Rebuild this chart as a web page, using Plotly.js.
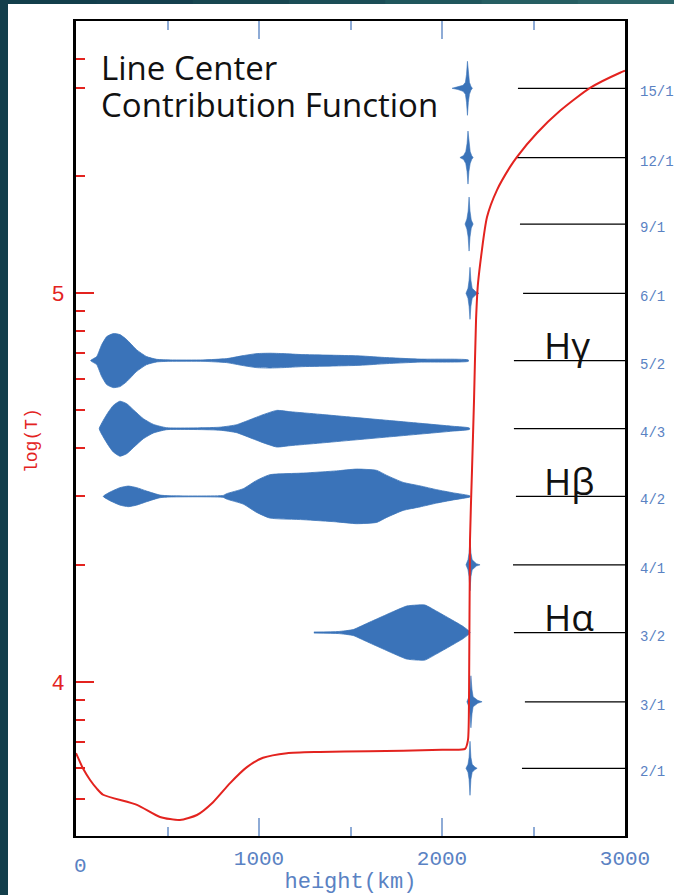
<!DOCTYPE html>
<html><head><meta charset="utf-8">
<script src="https://cdn.plot.ly/plotly-3.0.1.min.js"></script>
<style>html,body{margin:0;padding:0;background:#fff;} #chart{width:674px;height:895px;}</style>
</head><body><div id="chart"></div>
<script>
// ---------- data ----------
// temperature profile: height (km) vs log(T)
const tempHeight = [0, 40, 77, 115, 148, 333, 459, 568, 661, 749, 842, 934, 1022, 1153, 1333, 1600, 1787, 2000, 2126, 2142, 2148, 2153, 2164, 2175, 2186, 2197, 2246, 2301, 2372, 2410, 2519, 2645, 2809, 2973, 3000];
const tempLogT   = [3.817, 3.776, 3.748, 3.725, 3.710, 3.684, 3.653, 3.645, 3.658, 3.691, 3.740, 3.781, 3.805, 3.817, 3.820, 3.822, 3.823, 3.826, 3.828, 3.851, 3.979, 4.365, 4.545, 4.725, 4.931, 5.026, 5.195, 5.265, 5.324, 5.350, 5.411, 5.468, 5.527, 5.566, 5.571];

// transitions (right-hand labels) and the log(T) level of each row
const lineLabels      = ['15/1', '12/1', '9/1', '6/1', '5/2', '4/3', '4/2', '4/1', '3/2', '3/1', '2/1'];
const lineCenterLogT  = [5.526, 5.348, 5.177, 4.999, 4.826, 4.651, 4.477, 4.301, 4.127, 3.949, 3.778];
const markerStartKm   = [2415, 2410, 2426, 2443, 2393, 2393, 2404, 2388, 2393, 2453, 2437];

// named lines
const namedLabels = ['Hγ', 'Hβ', 'Hα'];
const namedRows   = ['5/2', '4/2', '3/2'];

// contribution functions: height (km) and amplitude (arbitrary units)
const cf15_1_h = [2055, 2087, 2115, 2128, 2134, 2139, 2144, 2150, 2158, 2166];
const cf15_1_a = [0, 1.2, 3, 6, 14, 27, 14, 6, 2, 0];
const cf12_1_h = [2098, 2118, 2130, 2137, 2142, 2147, 2154, 2162, 2170];
const cf12_1_a = [0, 2, 6, 14, 26.5, 14, 6, 2, 0];
const cf9_1_h  = [2126, 2136, 2143, 2148, 2153, 2160, 2170];
const cf9_1_a  = [0, 5, 13, 27, 13, 4, 0];
const cf6_1_h  = [2131, 2142, 2148, 2153, 2158, 2165, 2185, 2202];
const cf6_1_a  = [0, 5, 13, 26, 13, 5, 1.5, 0];
const cf5_2_h  = [80, 113, 140, 168, 204, 240, 277, 332, 386, 441, 514, 694, 823, 914, 987, 1060, 1131, 1240, 1424, 1552, 1698, 1880, 2144];
const cf5_2_a  = [0, 4, 15.7, 24, 27, 26, 21, 10.7, 4, 1.3, 0.7, 0.7, 2, 5, 7, 7.4, 7, 6, 5.3, 4.7, 3, 1.5, 0.7];
const cf4_3_h  = [127, 149, 177, 204, 240, 277, 313, 368, 423, 495, 787, 878, 951, 1022, 1097, 1169, 1333, 1514, 1698, 1880, 2060, 2150];
const cf4_3_a  = [0, 8.3, 16.7, 23.3, 27.5, 25, 19, 10, 4.3, 1, 1.5, 4, 9, 14, 18.3, 17, 14.4, 11.4, 8.4, 5.4, 2.4, 0.7];
const cf4_2_h  = [149, 186, 240, 286, 332, 386, 459, 514, 805, 823, 914, 987, 1060, 1242, 1424, 1534, 1643, 1698, 1788, 1880, 1971, 2062, 2153];
const cf4_2_a  = [0, 4.3, 8.7, 10.3, 8.7, 5.3, 1.3, 0.6, 1, 2.7, 7.7, 16, 21.7, 23.3, 25.5, 27.3, 26, 21, 14, 10.5, 6.7, 3.5, 0.5];
const cf4_1_h  = [2131, 2142, 2148, 2153, 2158, 2165, 2188, 2208];
const cf4_1_a  = [0, 5, 12, 26, 12, 5, 1.2, 0];
const cf3_2_h  = [1300, 1433, 1515, 1588, 1661, 1734, 1807, 1862, 1907, 1971, 2044, 2116, 2153];
const cf3_2_a  = [0.5, 1, 3, 9, 15, 21, 26.5, 27.5, 27.5, 21.3, 13.7, 6, 0.5];
const cf3_1_h  = [2136, 2147, 2153, 2158, 2164, 2170, 2195, 2219];
const cf3_1_a  = [0, 5, 12, 26, 12, 5, 1.5, 0];
const cf2_1_h  = [2131, 2142, 2148, 2153, 2158, 2165, 2180, 2192];
const cf2_1_a  = [0, 4, 11, 27, 11, 4, 1.2, 0];

const xTickVals  = [0, 1000, 2000, 3000];
const xMinorVals = [500, 1500, 2500];
const yTickVals  = [4, 5];
const yMinorVals = [3.699, 3.778, 3.845, 3.903, 3.954, 4.301, 4.477, 4.602, 4.699, 4.778, 4.845, 4.903, 4.954, 5.301, 5.527, 5.602];

// ---------- styles ----------
const RED = '#e3231f';
const BLUE_FILL = '#3a73b9';
const BLUE_TEXT = '#5a82c3';
const AMP_TO_LOGT = 1 / 389;   // amplitude unit -> log(T) half-width
const MONO = 'Liberation Mono, DejaVu Sans Mono, monospace';
const BROAD = ['5/2', '4/3', '4/2', '3/2'];

const cfSets = [
  ['15/1', cf15_1_h, cf15_1_a], ['12/1', cf12_1_h, cf12_1_a], ['9/1', cf9_1_h, cf9_1_a],
  ['6/1', cf6_1_h, cf6_1_a], ['5/2', cf5_2_h, cf5_2_a], ['4/3', cf4_3_h, cf4_3_a],
  ['4/2', cf4_2_h, cf4_2_a], ['4/1', cf4_1_h, cf4_1_a], ['3/2', cf3_2_h, cf3_2_a],
  ['3/1', cf3_1_h, cf3_1_a], ['2/1', cf2_1_h, cf2_1_a]
];

const traces = [];

// horizontal reference lines
lineLabels.forEach((lab, i) => {
  traces.push({
    x: [markerStartKm[i], 3000], y: [lineCenterLogT[i], lineCenterLogT[i]],
    mode: 'lines', line: {color: '#000', width: 1.2}, hoverinfo: 'skip', showlegend: false
  });
});

// contribution functions (filled, symmetric about each row)
cfSets.forEach(([lab, h, a]) => {
  const c = lineCenterLogT[lineLabels.indexOf(lab)];
  const up = a.map(v => c + v * AMP_TO_LOGT);
  const dn = a.map(v => c - v * AMP_TO_LOGT);
  const broad = BROAD.includes(lab);
  traces.push({
    x: h.concat(h.slice().reverse()),
    y: up.concat(dn.slice().reverse()),
    mode: 'lines', fill: 'toself', fillcolor: BLUE_FILL,
    line: broad ? {color: BLUE_FILL, width: 0.8, shape: 'spline', smoothing: 0.5} : {color: BLUE_FILL, width: 0.6},
    hoverinfo: 'skip', showlegend: false
  });
});

// temperature curve
traces.push({
  x: tempHeight, y: tempLogT, mode: 'lines',
  line: {color: RED, width: 2, shape: 'spline', smoothing: 0.6},
  hoverinfo: 'skip', showlegend: false
});

// ---------- annotations ----------
const W = 674, H = 895, ML = 76, MR = 49, MT = 21, MB = 59;
const PW = W - ML - MR, PH = H - MT - MB;
const px2x = px => (px - ML) / PW;
const py2y = py => 1 - (py - MT) / PH;

const annotations = [];
lineLabels.forEach((lab, i) => {
  annotations.push({
    text: lab, xref: 'paper', yref: 'y', x: px2x(638), y: lineCenterLogT[i],
    xanchor: 'left', yanchor: 'middle', yshift: -4, showarrow: false,
    font: {family: MONO, size: 14, color: BLUE_TEXT}
  });
});
namedLabels.forEach((lab, i) => {
  annotations.push({
    text: lab, xref: 'x', yref: 'y', x: 2548, y: lineCenterLogT[lineLabels.indexOf(namedRows[i])],
    xanchor: 'left', yanchor: 'middle', yshift: 16, showarrow: false,
    font: {family: 'Open Sans, sans-serif', size: 37, color: '#111'}
  });
});
annotations.push({text: 'Line Center', xref: 'paper', yref: 'paper', x: px2x(99), y: py2y(67),
  xanchor: 'left', yanchor: 'middle', showarrow: false, font: {family: 'Open Sans, sans-serif', size: 33, color: '#111'}});
annotations.push({text: 'Contribution Function', xref: 'paper', yref: 'paper', x: px2x(99), y: py2y(105),
  xanchor: 'left', yanchor: 'middle', showarrow: false, font: {family: 'Open Sans, sans-serif', size: 33, color: '#111'}});
annotations.push({text: '0', xref: 'x', yref: 'paper', x: 0, xshift: 4, y: py2y(866),
  xanchor: 'center', yanchor: 'middle', showarrow: false, font: {family: MONO, size: 21, color: BLUE_TEXT}});
annotations.push({text: 'log(T)', xref: 'paper', yref: 'paper', x: px2x(32), y: py2y(441), textangle: -90,
  xanchor: 'center', yanchor: 'middle', showarrow: false, font: {family: MONO, size: 18, color: RED}});

// dark frame strips
const shapes = [
  {type: 'rect', xref: 'paper', yref: 'paper', x0: px2x(0), x1: px2x(8), y0: py2y(H + 5), y1: py2y(-5),
   fillcolor: '#123e4b', line: {width: 0}, layer: 'above'}
];
const topCols = ['#123e4b', '#143f4d', '#174650', '#1b4d56', '#20565c', '#265e62', '#2b6468'];
topCols.forEach((col, i) => {
  const a = i * W / topCols.length, b = (i + 1) * W / topCols.length;
  shapes.push({type: 'rect', xref: 'paper', yref: 'paper', x0: px2x(Math.max(a, 8)), x1: px2x(b + 1),
    y0: py2y(4), y1: py2y(-5), fillcolor: col, line: {width: 0}, layer: 'above'});
});

const layout = {
  width: W, height: H,
  margin: {l: ML, r: MR, t: MT, b: MB, pad: 0},
  paper_bgcolor: '#fff', plot_bgcolor: '#fff',
  showlegend: false,
  xaxis: {
    range: [0, 3000], tickmode: 'array', tickvals: xTickVals, ticktext: ['', '1000', '2000', '3000'],
    ticks: 'inside', ticklen: 18, tickwidth: 2, tickcolor: '#8eabd6',
    minor: {tickmode: 'array', tickvals: xMinorVals, ticks: 'inside', ticklen: 9, tickwidth: 2, tickcolor: '#8eabd6', showgrid: false},
    showline: true, linecolor: '#000', linewidth: 2, mirror: 'ticks',
    showgrid: false, zeroline: false, ticklabelstandoff: 2,
    tickfont: {family: MONO, size: 21, color: BLUE_TEXT},
    title: {text: 'height(km)', font: {family: MONO, size: 22, color: BLUE_TEXT}, standoff: 4}
  },
  yaxis: {
    range: [3.604, 5.699], tickmode: 'array', tickvals: yTickVals, ticktext: ['4', '5'],
    ticks: 'inside', ticklen: 18, tickwidth: 2, tickcolor: RED,
    minor: {tickmode: 'array', tickvals: yMinorVals, ticks: 'inside', ticklen: 9, tickwidth: 2, tickcolor: RED, showgrid: false},
    showline: true, linecolor: '#000', linewidth: 3, mirror: true,
    showgrid: false, zeroline: false, ticklabelstandoff: 4,
    tickfont: {family: MONO, size: 22, color: RED}
  },
  annotations: annotations,
  shapes: shapes
};

Plotly.newPlot('chart', traces, layout, {displayModeBar: false, staticPlot: true});
</script>
</body></html>
